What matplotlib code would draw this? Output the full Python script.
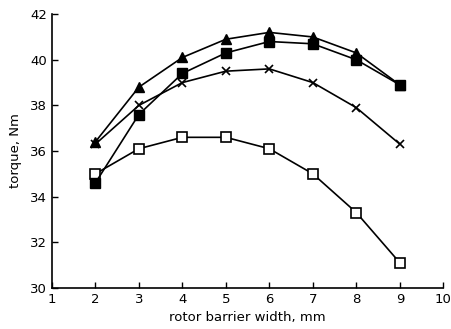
import matplotlib
matplotlib.use("Agg")
import matplotlib.pyplot as plt

x = [2, 3, 4, 5, 6, 7, 8, 9]
triangles = [36.4, 38.8, 40.1, 40.9, 41.2, 41.0, 40.3, 38.9]
filled_squares = [34.6, 37.6, 39.4, 40.3, 40.8, 40.7, 40.0, 38.9]
crosses = [36.3, 38.0, 39.0, 39.5, 39.6, 39.0, 37.9, 36.3]
open_squares = [35.0, 36.1, 36.6, 36.6, 36.1, 35.0, 33.3, 31.1]

xticks = [1, 2, 3, 4, 5, 6, 7, 8, 9, 10]
yticks = [30, 32, 34, 36, 38, 40, 42]

fig = plt.figure(figsize=(4.51, 3.29), dpi=100)
ax = fig.add_axes([0.115, 0.125, 0.868, 0.832])

lw = 1.2
ax.plot(x, open_squares, color='black', lw=lw, marker='s', ms=7, mfc='white', mec='black', mew=1.2)
ax.plot(x, crosses, color='black', lw=lw, marker='x', ms=6, mew=1.2)
ax.plot(x, filled_squares, color='black', lw=lw, marker='s', ms=7, mfc='black', mec='black')
ax.plot(x, triangles, color='black', lw=lw, marker='^', ms=7.5, mfc='black', mec='black')

ax.set_xlim(1, 10)
ax.set_ylim(30, 42)
ax.set_xticks(xticks)
ax.set_yticks(yticks)
ax.tick_params(direction='in', length=4, width=1, labelsize=9.5)
for s in ['top', 'right']:
    ax.spines[s].set_visible(False)
for s in ['left', 'bottom']:
    ax.spines[s].set_linewidth(1.2)
ax.set_xlabel('rotor barrier width, mm', fontsize=9.5)
ax.set_ylabel('torque, Nm', fontsize=9.5, labelpad=6)

fig.savefig('out.png', dpi=100)
